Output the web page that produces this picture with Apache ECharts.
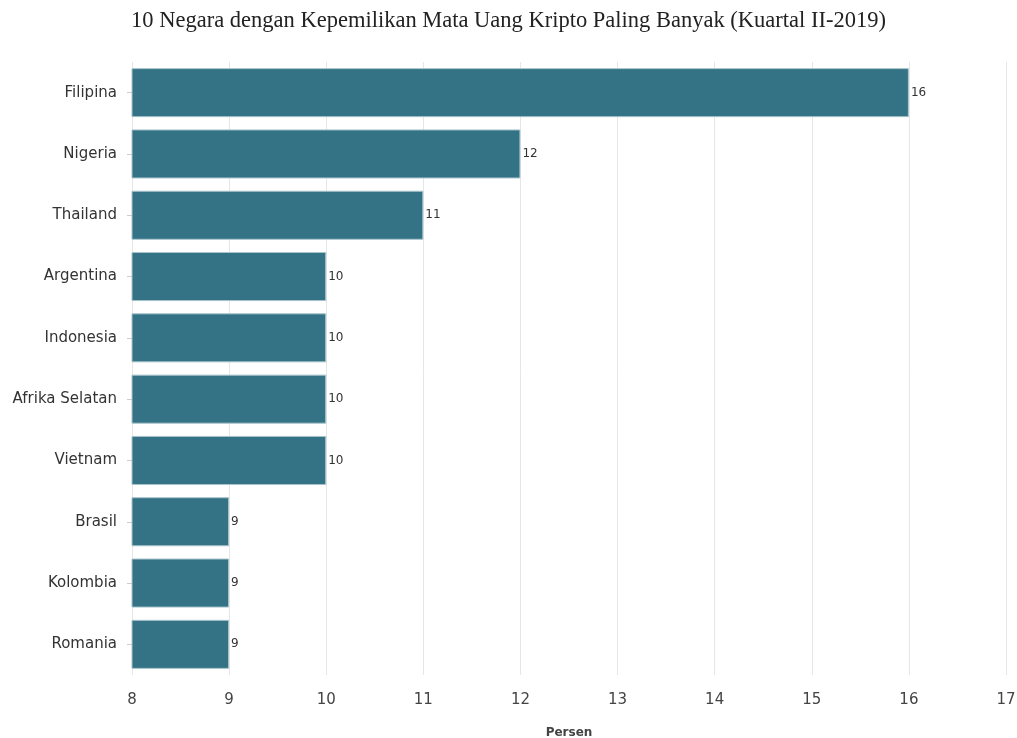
<!DOCTYPE html>
<html><head><meta charset="utf-8">
<script src="https://cdn.jsdelivr.net/npm/echarts@6/dist/echarts.min.js"></script>
<style>html,body{margin:0;padding:0;background:#fff}#c{width:1017px;height:738px}</style>
</head><body><div id="c"></div>
<script>
const categories = ["Filipina","Nigeria","Thailand","Argentina","Indonesia","Afrika Selatan","Vietnam","Brasil","Kolombia","Romania"];
const values = [16,12,11,10,10,10,10,9,9,9];
const titleText = "10 Negara dengan Kepemilikan Mata Uang Kripto Paling Banyak (Kuartal II-2019)";
const axisName = "Persen";

const chart = echarts.init(document.getElementById('c'));
chart.setOption({
  animation:false,
  title:{text:titleText,left:'center',top:5,textStyle:{fontFamily:'Liberation Serif',fontWeight:'normal',fontSize:22.5,color:'#222'}},
  grid:{left:132,right:11,top:62,bottom:63,containLabel:false,outerBoundsMode:'none'},
  xAxis:{type:'value',min:8,max:17,interval:1,
    name:axisName,nameLocation:'middle',nameGap:52,
    nameTextStyle:{fontFamily:'DejaVu Sans',fontWeight:'bold',fontSize:12,color:'#444'},
    axisLine:{show:false},axisTick:{show:false},
    axisLabel:{fontFamily:'DejaVu Sans',fontSize:15,color:'#444',margin:18},
    splitLine:{show:true,lineStyle:{color:'#e6e6e6',width:1}}},
  yAxis:{type:'category',data:categories,inverse:true,
    axisLine:{show:false},
    axisTick:{show:true,length:5,alignWithLabel:true,lineStyle:{color:'#ccc'}},
    axisLabel:{fontFamily:'DejaVu Sans',fontSize:15,color:'#333',margin:15}},
  series:[{type:'bar',data:values,barCategoryGap:'20%',
    itemStyle:{color:'#337385',borderColor:'#a9c4cc',borderWidth:1},
    label:{show:true,position:'right',distance:2,fontFamily:'DejaVu Sans',fontSize:12,color:'#333'}}]
});
</script></body></html>
